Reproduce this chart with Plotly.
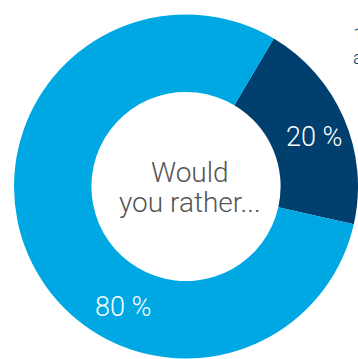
import plotly.graph_objects as go

labels = ["Option A", "Option B"]
values = [20, 80]
value_labels = ["20 %", "80 %"]
colors = ["#003f6e", "#00a8e3"]
center_lines = ["Would", "you rather..."]
side_lines = ["1", "a"]

W, H = 358, 359
R = 175.5
cx, cy = 189.5, 189.5

fig = go.Figure(go.Pie(
    labels=labels,
    values=values,
    hole=0.55,
    sort=False,
    direction="clockwise",
    rotation=30.7,
    marker=dict(colors=colors, line=dict(width=0)),
    textinfo="none",
    hoverinfo="label+percent",
    domain=dict(x=[max(0, (cx - R) / W), min(1, (cx + R) / W)],
                y=[max(0, 1 - (cy + R) / H), min(1, 1 - (cy - R) / H)]),
    showlegend=False,
))

ann = []
for line, yc in zip(center_lines, [172, 202]):
    ann.append(dict(x=cx / W, y=1 - yc / H, xref="paper", yref="paper",
                    text=line, showarrow=False,
                    font=dict(family="Roboto", size=28, color="#555555", weight=300),
                    align="center", xanchor="center", yanchor="middle"))
for txt, (px, py) in zip(value_labels, [(314, 137), (123, 307)]):
    ann.append(dict(x=px / W, y=1 - py / H, xref="paper", yref="paper",
                    text=txt, showarrow=False,
                    font=dict(family="Roboto", size=27, color="white", weight=300),
                    xanchor="center", yanchor="middle"))
for txt, py in zip(side_lines, [35, 57]):
    ann.append(dict(x=351 / W, y=1 - py / H, xref="paper", yref="paper",
                    text=txt, showarrow=False,
                    font=dict(family="Roboto", size=19, color="#003f6e", weight=300),
                    xanchor="left", yanchor="middle", align="left"))

fig.update_layout(
    width=W, height=H,
    margin=dict(l=0, r=0, t=0, b=0),
    paper_bgcolor="white",
    plot_bgcolor="white",
    annotations=ann,
)

fig.write_html("out.html", config={"displayModeBar": False},
               post_script="document.body.style.margin='0';")
